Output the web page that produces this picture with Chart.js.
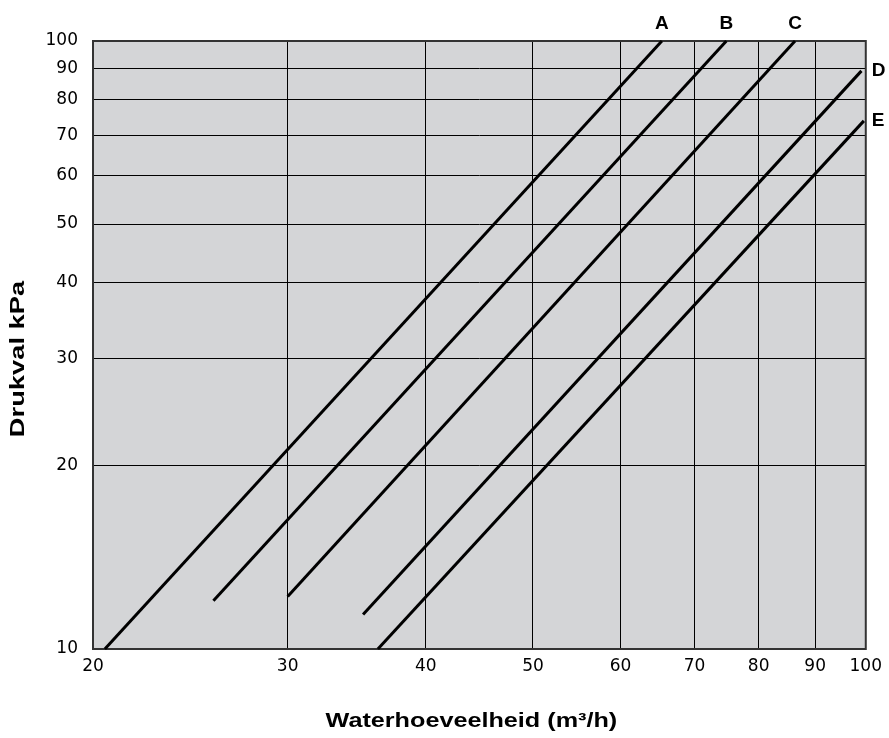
<!DOCTYPE html>
<html>
<head>
<meta charset="utf-8">
<script src="https://cdn.jsdelivr.net/npm/chart.js@4.4.1/dist/chart.umd.min.js"></script>
<style>
  html, body { margin: 0; padding: 0; background: #fff; }
  canvas { display: block; }
</style>
</head>
<body>
<canvas id="pressureChart" width="889" height="738"></canvas>
<script>
/* ===============================
   DATA
   =============================== */
const flowTicks = [20, 30, 40, 50, 60, 70, 80, 90, 100];
const dropTicks = [10, 20, 30, 40, 50, 60, 70, 80, 90, 100];

const seriesNames = ["A", "B", "C", "D", "E"];

const flowA = [20.5, 65.4];
const dropA = [10, 100];
const flowB = [25.7, 74.8];
const dropB = [12.0, 100];
const flowC = [30.0, 86.3];
const dropC = [12.2, 100];
const flowD = [35.1, 99.1];
const dropD = [11.4, 89.3];
const flowE = [36.2, 99.6];
const dropE = [10, 73.9];

const xTitle = "Waterhoeveelheid (m³/h)";
const yTitle = "Drukval kPa";

const seriesFlow = [flowA, flowB, flowC, flowD, flowE];
const seriesDrop = [dropA, dropB, dropC, dropD, dropE];

const FONT = "'Liberation Sans', Arial, Helvetica, sans-serif";
const TICK_FONT = "'DejaVu Sans', sans-serif";

/* ===============================
   PLOT BACKGROUND + OUTLINE + LABELS
   =============================== */
const chartDecor = {
  id: "chartDecor",
  beforeDraw(chart) {
    const { ctx, chartArea: a } = chart;
    ctx.save();
    ctx.fillStyle = "#d4d5d7";
    ctx.fillRect(a.left, a.top, a.right - a.left, a.bottom - a.top);
    ctx.restore();
  },
  beforeDatasetsDraw(chart) {
    const { ctx, chartArea: a } = chart;
    ctx.save();
    ctx.strokeStyle = "#333";
    ctx.lineWidth = 2;
    ctx.strokeRect(a.left, a.top, a.right - a.left, a.bottom - a.top);
    ctx.restore();
  },
  afterDatasetsDraw(chart) {
    const { ctx, chartArea: a } = chart;
    ctx.save();
    ctx.fillStyle = "#000";
    ctx.font = "bold 19px " + FONT;

    // series letters at the end of each line
    chart.data.datasets.forEach((ds, i) => {
      const meta = chart.getDatasetMeta(i);
      const end = meta.data[meta.data.length - 1];
      if (end.y <= a.top + 2) {
        ctx.textAlign = "center";
        ctx.textBaseline = "middle";
        ctx.fillText(ds.label, end.x, a.top - 17);
      } else {
        ctx.textAlign = "left";
        ctx.textBaseline = "middle";
        ctx.fillText(ds.label, a.right + 6, end.y);
      }
    });

    // axis titles (stretched a bit like the original artwork)
    ctx.font = "bold 21px " + FONT;
    ctx.textAlign = "center";
    ctx.textBaseline = "middle";

    ctx.save();
    ctx.translate((a.left + a.right) / 2 - 8, 721);
    ctx.scale(1.2, 1);
    ctx.fillText(xTitle, 0, 0);
    ctx.restore();

    ctx.translate(18, 359);
    ctx.rotate(-Math.PI / 2);
    ctx.scale(1.3, 1);
    ctx.fillText(yTitle, 0, 0);
    ctx.restore();
  }
};

/* ===============================
   RENDER
   =============================== */
const datasets = seriesNames.map((name, i) => ({
  label: name,
  data: seriesFlow[i].map((q, j) => ({ x: q, y: seriesDrop[i][j] })),
  showLine: true,
  borderColor: "#000",
  borderWidth: 3,
  pointRadius: 0,
  fill: false,
  clip: false
}));

new Chart(document.getElementById("pressureChart").getContext("2d"), {
  type: "scatter",
  data: { datasets },
  plugins: [chartDecor],
  options: {
    responsive: false,
    animation: false,
    devicePixelRatio: 1,
    layout: { padding: { top: 41, right: 22, left: 0, bottom: 0 } },
    plugins: {
      legend: { display: false },
      tooltip: { enabled: false }
    },
    scales: {
      x: {
        type: "logarithmic",
        min: 20,
        max: 100,
        afterBuildTicks: s => { s.ticks = flowTicks.map(v => ({ value: v })); },
        afterFit: s => { s.height = 89; },
        ticks: {
          autoSkip: false,
          maxRotation: 0,
          padding: 7,
          color: "#000",
          font: { family: TICK_FONT, size: 17 },
          callback: v => String(v)
        },
        grid: { color: "#000", lineWidth: 1, drawTicks: false },
        border: { display: false }
      },
      y: {
        type: "logarithmic",
        min: 10,
        max: 100,
        afterBuildTicks: s => { s.ticks = dropTicks.map(v => ({ value: v })); },
        afterFit: s => { s.width = 93; },
        ticks: {
          autoSkip: false,
          padding: 15,
          color: "#000",
          font: { family: TICK_FONT, size: 17 },
          callback: v => String(v)
        },
        grid: { color: "#000", lineWidth: 1, drawTicks: false },
        border: { display: false }
      }
    }
  }
});
</script>
</body>
</html>
